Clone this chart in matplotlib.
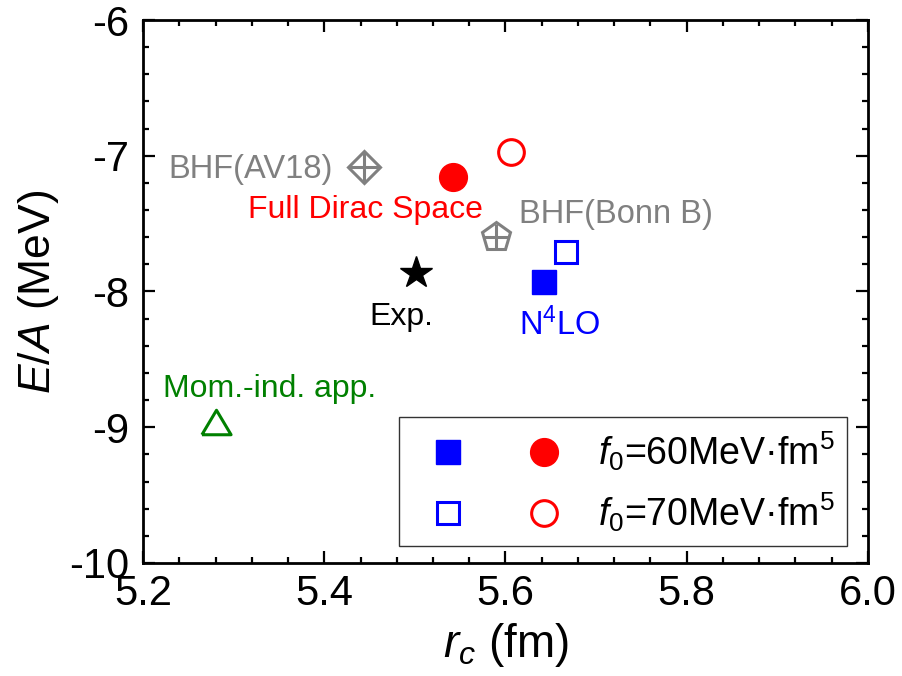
import matplotlib
matplotlib.use('Agg')
import matplotlib.pyplot as plt
from matplotlib.legend_handler import HandlerTuple
from matplotlib.ticker import MultipleLocator

plt.rcParams['font.family'] = ['Liberation Sans', 'DejaVu Sans']
plt.rcParams['mathtext.fontset'] = 'custom'
plt.rcParams['mathtext.rm'] = 'Liberation Sans'
plt.rcParams['mathtext.it'] = 'Liberation Sans:italic'

# data (r_c in fm, E/A in MeV)
dirac_60 = (5.542, -7.155)
dirac_70 = (5.606, -6.97)
n4lo_60 = (5.642, -7.93)
n4lo_70 = (5.667, -7.71)
bhf_av18 = (5.444, -7.08)
bhf_bonnb = (5.590, -7.597)
exp_point = (5.501, -7.867)
mom_ind = (5.280, -8.96)

legend_labels = ['$f_0$=60MeV·fm$^5$', '$f_0$=70MeV·fm$^5$']

RED = '#ff0000'
BLUE = '#0000ff'
GREEN = '#008000'
GRAY = '#808080'

fig = plt.figure(figsize=(9.03, 6.76), dpi=100)
ax = fig.add_axes([0.1584, 0.1672, 0.8028, 0.8032])

# BHF markers: open polygon with a cross inside
ax.plot(*bhf_av18, marker='D', ms=16.5, mfc='none', mec=GRAY, mew=2.2, ls='none')
ax.plot(*bhf_av18, marker='+', ms=23, mec=GRAY, mew=2.2, ls='none')
ax.plot(*bhf_bonnb, marker='p', ms=21, mfc='none', mec=GRAY, mew=2.2, ls='none')
ax.plot(*bhf_bonnb, marker='+', ms=19, mec=GRAY, mew=2.2, ls='none')

ax.plot(*exp_point, marker='*', ms=24, color='black', ls='none')
tri = [(-1, -0.84), (1, -0.84), (0, 0.84), (-1, -0.84)]
ax.plot(*mom_ind, marker=tri, ms=21, mfc='none', mec=GREEN, mew=2.2, ls='none')

sq60, = ax.plot(*n4lo_60, marker='s', ms=17, color=BLUE, mew=1, ls='none')
sq70, = ax.plot(*n4lo_70, marker='s', ms=15.5, mfc='none', mec=BLUE, mew=2.2, ls='none')
ci60, = ax.plot(*dirac_60, marker='o', ms=20, color=RED, ls='none')
ci70, = ax.plot(*dirac_70, marker='o', ms=18.5, mfc='none', mec=RED, mew=2.2, ls='none')

# annotations
ax.text(5.409, -7.164, 'BHF(AV18)', color=GRAY, fontsize=23.5, ha='right', va='baseline')
ax.text(5.316, -7.459, 'Full Dirac Space', color=RED, fontsize=23, ha='left', va='baseline')
ax.text(5.615, -7.496, 'BHF(Bonn B)', color=GRAY, fontsize=23.5, ha='left', va='baseline')
ax.text(5.450, -8.248, 'Exp.', color='black', fontsize=23, ha='left', va='baseline')
ax.text(5.615, -8.321, 'N$^4$LO', color=BLUE, fontsize=23.5, ha='left', va='baseline')
ax.text(5.222, -8.778, 'Mom.-ind. app.', color=GREEN, fontsize=23, ha='left', va='baseline')

leg = ax.legend([(sq60, ci60), (sq70, ci70)], legend_labels,
                handler_map={tuple: HandlerTuple(ndivide=None, pad=0.6)},
                loc='lower right', bbox_to_anchor=(0.971, 0.031), borderaxespad=0,
                fontsize=27, handlelength=4.5, handletextpad=0.48,
                borderpad=0.32, labelspacing=0.45, frameon=True,
                fancybox=False, edgecolor='#333333', framealpha=1)
leg.get_frame().set_linewidth(1.0)

ax.set_xlim(5.2, 6.0)
ax.set_ylim(-10, -6)
ax.xaxis.set_major_locator(MultipleLocator(0.2))
ax.xaxis.set_minor_locator(MultipleLocator(0.04))
ax.yaxis.set_major_locator(MultipleLocator(1))
ax.yaxis.set_minor_locator(MultipleLocator(0.2))
ax.xaxis.set_major_formatter(matplotlib.ticker.FormatStrFormatter('%.1f'))
ax.yaxis.set_major_formatter(matplotlib.ticker.FormatStrFormatter('%d'))

ax.tick_params(which='both', direction='in', top=True, right=True, width=1.6)
ax.tick_params(which='major', length=8.5, labelsize=30)
ax.tick_params(which='minor', length=4)
ax.tick_params(axis='x', which='major', pad=8)
ax.tick_params(axis='y', which='major', pad=10)
for sp in ax.spines.values():
    sp.set_linewidth(2)

ax.set_xlabel('$r_c$ (fm)', fontsize=33, labelpad=5)
ax.set_ylabel('$E/A$ (MeV)', fontsize=32, labelpad=6)

fig.savefig('out.png', dpi=100)
